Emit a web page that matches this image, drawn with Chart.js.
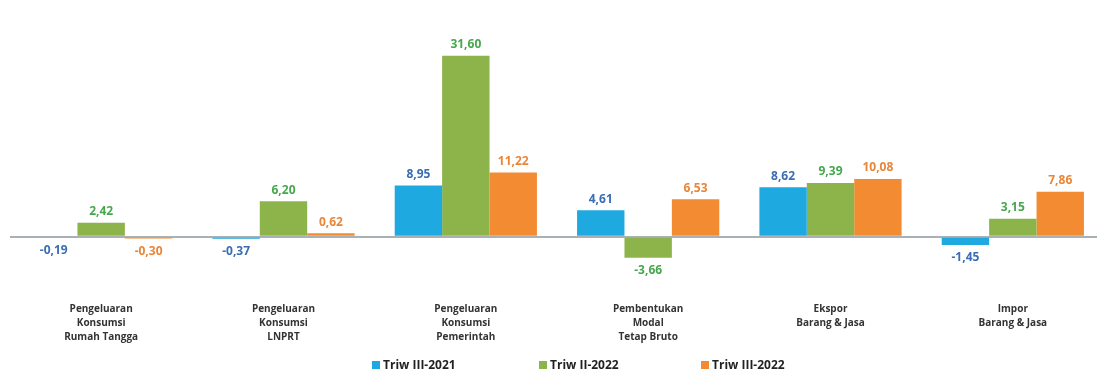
<!DOCTYPE html>
<html lang="id">
<head>
<meta charset="UTF-8">
<title>Pertumbuhan PDB Menurut Pengeluaran</title>
<script src="https://cdn.jsdelivr.net/npm/chart.js"></script>
<style>
  html, body { margin: 0; padding: 0; background: #fff; overflow: hidden; }
  #wrap { position: relative; width: 1097px; height: 371px; overflow: hidden; }
  #grafik { position: absolute; left: 0; top: 0; }
  .leg { position: absolute; top: 356px; font: bold 12px "Open Sans", sans-serif; color: #222; white-space: nowrap; }
  .leg i { display: inline-block; width: 8px; height: 8px; margin-right: 3px; vertical-align: 0px; }
</style>
</head>
<body>
<div id="wrap">
  <canvas id="grafik" width="1110" height="371"></canvas>
  <div id="legenda"></div>
</div>
<script>
// kategori komponen pengeluaran
var kategori = [
  ['Pengeluaran', 'Konsumsi', 'Rumah Tangga'],
  ['Pengeluaran', 'Konsumsi', 'LNPRT'],
  ['Pengeluaran', 'Konsumsi', 'Pemerintah'],
  ['Pembentukan', 'Modal', 'Tetap Bruto'],
  ['Ekspor', 'Barang & Jasa'],
  ['Impor', 'Barang & Jasa']
];
var namaSeri = ['Triw III-2021', 'Triw II-2022', 'Triw III-2022'];
var triwIII2021 = [-0.19, -0.37, 8.95, 4.61, 8.62, -1.45];
var triwII2022 = [2.42, 6.20, 31.60, -3.66, 9.39, 3.15];
var triwIII2022 = [-0.30, 0.62, 11.22, 6.53, 10.08, 7.86];

var warnaBatang = ['#1fa9e1', '#8cb44b', '#f38b33'];
var warnaLabel = ['#3a6db3', '#45a84c', '#e8863a'];
var posisiLegenda = [372, 539, 701];

// label nilai di atas / bawah batang
var labelNilai = {
  id: 'labelNilai',
  afterDatasetsDraw: function(chart) {
    var ctx = chart.ctx;
    ctx.save();
    ctx.font = 'bold 12px "Open Sans", sans-serif';
    ctx.textAlign = 'center';
    ctx.textBaseline = 'middle';
    chart.data.datasets.forEach(function(ds, i) {
      var meta = chart.getDatasetMeta(i);
      ctx.fillStyle = warnaLabel[i];
      meta.data.forEach(function(bar, j) {
        var v = ds.data[j];
        var teks = v.toFixed(2).replace('.', ',');
        var y = v >= 0 ? bar.y - 11 : bar.y + 13;
        ctx.fillText(teks, bar.x, y);
      });
    });
    ctx.restore();
  }
};

var ctx = document.getElementById('grafik').getContext('2d');
new Chart(ctx, {
  type: 'bar',
  data: {
    labels: kategori,
    datasets: [
      { label: namaSeri[0], data: triwIII2021, backgroundColor: warnaBatang[0] },
      { label: namaSeri[1], data: triwII2022, backgroundColor: warnaBatang[1] },
      { label: namaSeri[2], data: triwIII2022, backgroundColor: warnaBatang[2] }
    ]
  },
  options: {
    responsive: false,
    animation: false,
    categoryPercentage: 0.78,
    barPercentage: 1,
    layout: { padding: { left: 10, right: 6, top: 42, bottom: 27 } },
    plugins: {
      legend: { display: false },
      tooltip: { enabled: false }
    },
    scales: {
      x: {
        grid: { display: false },
        border: { display: false },
        ticks: {
          color: '#333',
          font: { family: 'Open Sans', weight: 'bold', size: 10, lineHeight: 1.4 },
          padding: 0,
          maxRotation: 0,
          autoSkip: false
        }
      },
      y: {
        min: -10,
        max: 34,
        afterFit: function(s) { s.width = 0; },
        ticks: { display: false, stepSize: 2 },
        border: { display: false },
        grid: {
          drawTicks: false,
          lineWidth: 2,
          color: function(c) { return c.tick && c.tick.value === 0 ? '#a9b1b4' : 'rgba(0,0,0,0)'; }
        }
      }
    }
  },
  plugins: [labelNilai]
});

// legenda
var leg = document.getElementById('legenda');
namaSeri.forEach(function(n, i) {
  var d = document.createElement('div');
  d.className = 'leg';
  d.style.left = posisiLegenda[i] + 'px';
  d.innerHTML = '<i style="background:' + warnaBatang[i] + '"></i>' + n;
  leg.appendChild(d);
});
</script>
</body>
</html>
